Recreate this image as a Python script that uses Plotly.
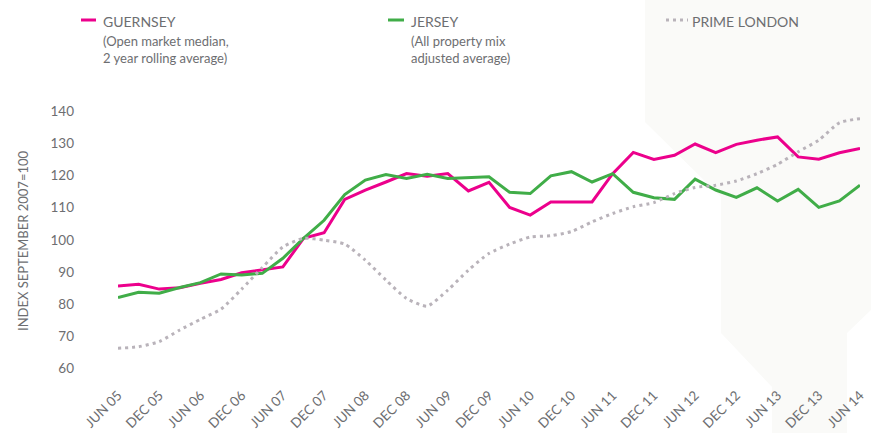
import plotly.graph_objects as go

# quarterly index, Jun 05 .. Jun 14
QUARTERS = [
    "JUN 05", "SEP 05", "DEC 05", "MAR 06", "JUN 06", "SEP 06", "DEC 06", "MAR 07",
    "JUN 07", "SEP 07", "DEC 07", "MAR 08", "JUN 08", "SEP 08", "DEC 08", "MAR 09",
    "JUN 09", "SEP 09", "DEC 09", "MAR 10", "JUN 10", "SEP 10", "DEC 10", "MAR 11",
    "JUN 11", "SEP 11", "DEC 11", "MAR 12", "JUN 12", "SEP 12", "DEC 12", "MAR 13",
    "JUN 13", "SEP 13", "DEC 13", "MAR 14", "JUN 14",
]
TICK_LABELS = QUARTERS[::2]

GUERNSEY = [85.7, 86.2, 84.7, 85.1, 86.5, 87.7, 89.8, 90.6, 91.6, 100.5,
            102.2, 112.6, 115.5, 118.0, 120.6, 119.8, 120.6, 115.2, 117.9, 110.1,
            107.7, 111.8, 111.8, 111.8, 120.6, 127.2, 125.0, 126.3, 129.8, 127.1,
            129.7, 131.0, 132.0, 125.8, 125.1, 127.1, 128.4]
JERSEY = [82.1, 83.7, 83.4, 85.2, 86.7, 89.4, 89.1, 89.6, 94.3, 100.5,
          106.1, 114.1, 118.6, 120.3, 119.1, 120.4, 119.1, 119.4, 119.6, 114.8,
          114.4, 119.9, 121.2, 118.0, 120.6, 114.8, 113.1, 112.6, 118.9, 115.5,
          113.2, 116.2, 112.1, 115.7, 110.1, 112.1, 117.0]
PRIME_LONDON = [66.3, 66.8, 68.4, 72.0, 75.3, 78.5, 84.7, 91.4, 97.8, 100.5,
                99.9, 98.7, 93.7, 87.5, 81.8, 79.4, 84.4, 90.6, 95.8, 98.7,
                100.9, 101.3, 102.6, 105.6, 108.2, 110.3, 111.6, 114.4, 116.3, 117.0,
                118.3, 120.6, 123.5, 127.4, 131.0, 136.4, 137.7]

PINK = "#ec008c"
GREEN = "#40ad48"
GREY = "#b9b3ba"
TEXT = "#6d6e71"
FONT = "Lato"

W, H = 871, 433
ML, MR, MT, MB = 118, 11, 108, 58


def px(x):
    return (x - ML) / (W - ML - MR)


def py(y):
    return (H - MB - y) / (H - MT - MB)


fig = go.Figure()
series = [
    ("Guernsey", GUERNSEY, dict(color=PINK, width=3)),
    ("Jersey", JERSEY, dict(color=GREEN, width=3)),
    ("Prime London", PRIME_LONDON, dict(color=GREY, width=3, dash="3px,4px", shape="spline", smoothing=0.6)),
]
for name, vals, line in series:
    fig.add_trace(go.Scatter(x=QUARTERS, y=vals, name=name, mode="lines",
                             line=line, cliponaxis=False))

# faint background silhouette on the right
poly = [(645, 0), (871, 0), (871, 310), (847, 333), (847, 433), (772, 433),
        (772, 387), (721, 333), (721, 197), (645, 122)]
path = "M " + " L ".join(f"{px(a):.4f},{py(b):.4f}" for a, b in poly) + " Z"
shapes = [dict(type="path", xref="paper", yref="paper", path=path,
               fillcolor="#fafaf8", line=dict(width=0), layer="below")]

# legend samples
shapes += [
    dict(type="line", xref="paper", yref="paper", x0=px(81), x1=px(96), y0=py(20), y1=py(20),
         line=dict(color=PINK, width=3)),
    dict(type="line", xref="paper", yref="paper", x0=px(388), x1=px(404), y0=py(20), y1=py(20),
         line=dict(color=GREEN, width=3)),
    dict(type="line", xref="paper", yref="paper", x0=px(666), x1=px(688), y0=py(20), y1=py(20),
         line=dict(color=GREY, width=3, dash="3px,4px")),
]

ann = []
def label(x, y, text, size):
    # y is the top of the text box, in window pixels
    ann.append(dict(xref="paper", yref="paper", x=px(x), y=py(y), text=text, showarrow=False,
                    xanchor="left", yanchor="top", align="left",
                    font=dict(family=FONT, size=size, color=TEXT)))

label(101, 11, "GUERNSEY", 14)
label(101, 31, "(Open market median,<br>2 year rolling average)", 13)
label(409, 11, "JERSEY", 14)
label(409, 31, "(All property mix<br>adjusted average)", 13)
label(690, 11, "PRIME LONDON", 14)

ann.append(dict(xref="paper", yref="paper", x=px(23), y=py(240), text="INDEX SEPTEMBER 2007=100",
                textangle=-90, showarrow=False, xanchor="center", yanchor="middle",
                font=dict(family=FONT, size=13, color=TEXT)))

fig.update_layout(
    width=W, height=H,
    margin=dict(l=ML, r=MR, t=MT, b=MB),
    paper_bgcolor="white", plot_bgcolor="rgba(0,0,0,0)",
    showlegend=False,
    font=dict(family=FONT, color=TEXT, size=13),
    shapes=shapes, annotations=ann,
    xaxis=dict(type="category", range=[0, len(QUARTERS) - 1], tickvals=TICK_LABELS,
               ticktext=TICK_LABELS, tickangle=-45, showgrid=False, zeroline=False,
               showline=False, ticks="", automargin=False, ticklabelstandoff=9,
               tickfont=dict(size=13.5, color=TEXT)),
    yaxis=dict(range=[58, 141], tickvals=[60, 70, 80, 90, 100, 110, 120, 130, 140],
               showgrid=False, zeroline=False, showline=False, ticks="", automargin=False,
               ticklabelstandoff=43, tickfont=dict(size=13.5, color=TEXT)),
)

# page body has a default 8px margin; drop it so the figure sits at the window corner
fig.write_html("out.html", config={"displayModeBar": False},
               post_script="document.body.style.margin='0';document.body.style.overflow='hidden';")
